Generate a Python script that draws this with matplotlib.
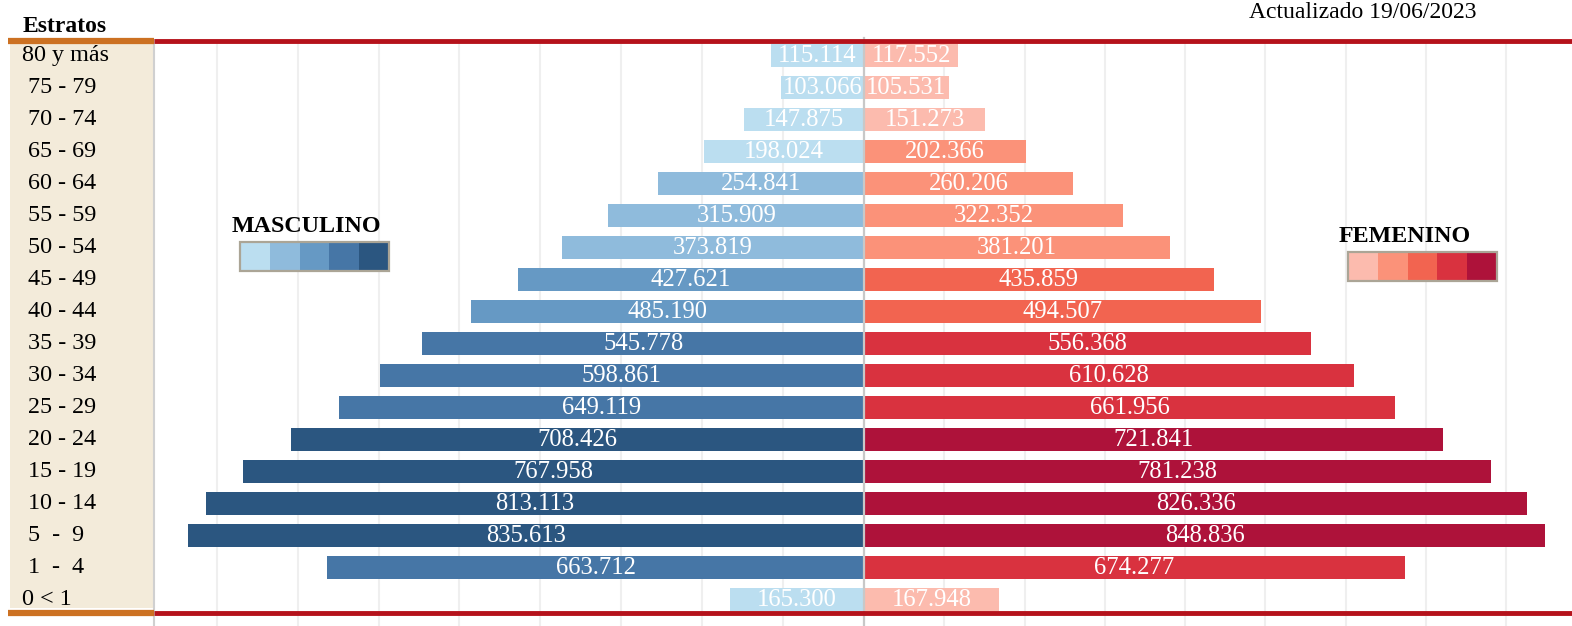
import matplotlib.pyplot as plt
import numpy as np
from matplotlib.patches import Rectangle
from matplotlib.lines import Line2D
import matplotlib.transforms as mtransforms

# Daten
estratos = ["80 y más", " 75 - 79", " 70 - 74", " 65 - 69", " 60 - 64", " 55 - 59",
            " 50 - 54", " 45 - 49", " 40 - 44", " 35 - 39", " 30 - 34", " 25 - 29",
            " 20 - 24", " 15 - 19", " 10 - 14", " 5  -  9", " 1  -  4", "0 < 1"]
masculino = [115114, 103066, 147875, 198024, 254841, 315909, 373819, 427621, 485190,
             545778, 598861, 649119, 708426, 767958, 813113, 835613, 663712, 165300]
femenino = [117552, 105531, 151273, 202366, 260206, 322352, 381201, 435859, 494507,
            556368, 610628, 661956, 721841, 781238, 826336, 848836, 674277, 167948]
fecha = "Actualizado 19/06/2023"

# Farbstufen (quantisiert nach Wert)
stufen = [200000, 400000, 500000, 700000]
blau = ["#BBDEF0", "#8FBBDC", "#6699C4", "#4676A6", "#2B5680"]
rot = ["#FCBBAE", "#FB9279", "#F26450", "#D9323F", "#AE123A"]

W, H = 1572, 626
SERIF = "Liberation Serif"

def fx(px):
    return px / W

def fy(py):
    return 1 - py / H

fig = plt.figure(figsize=(W / 100, H / 100), dpi=100)

top, bottom = 40, 626
pitch = 32.0
erste = 55.5   # Mitte der ersten Zeile in Pixel
n = len(estratos)
ax_m = fig.add_axes([fx(154), fy(bottom), fx(864 - 154), (bottom - top) / H])
ax_f = fig.add_axes([fx(864), fy(bottom), fx(W - 864), (bottom - top) / H])

y = np.arange(n)
c_m = [blau[i] for i in np.digitize(masculino, stufen)]
c_f = [rot[i] for i in np.digitize(femenino, stufen)]

ax_m.barh(y, -np.array(masculino), height=0.73, color=c_m, zorder=2)
ax_f.barh(y, femenino, height=0.73, color=c_f, zorder=2)

ax_m.set_xlim(-877600, 0)
ax_f.set_xlim(0, 882200)
y_oben = -(erste - top) / pitch
for ax in (ax_m, ax_f):
    ax.set_ylim(y_oben + (bottom - top) / pitch, y_oben)
    lo, hi = ax.get_xlim()
    ax.set_xticks(np.arange(-900000, 900001, 100000))
    ax.set_xlim(lo, hi)
    ax.grid(axis="x", color="#EFEFEF", linewidth=1.5, zorder=0)
    ax.tick_params(length=0, labelbottom=False, labelleft=False)
    ax.set_yticks([])
    for s in ax.spines.values():
        s.set_visible(False)

# Werte in den Balken
for i, v in enumerate(masculino):
    ax_m.text(-v / 2, i, f"{v:,}".replace(",", "."), ha="center", va="center",
              color="white", fontsize=17.7, family=SERIF, zorder=3)
for i, v in enumerate(femenino):
    ax_f.text(v / 2, i, f"{v:,}".replace(",", "."), ha="center", va="center",
              color="white", fontsize=17.7, family=SERIF, zorder=3)

# Mittellinie
fig.add_artist(Line2D([fx(864), fx(864)], [fy(38), fy(bottom)], color="#C8C8C8", lw=1.6, zorder=5))

# Linkes Feld mit Estratos
fig.add_artist(Rectangle((fx(10), fy(608)), fx(154 - 10), (608 - 43) / H,
                         facecolor="#F3EBDA", edgecolor="none", zorder=1))
fig.add_artist(Line2D([fx(154), fx(154)], [fy(40), fy(bottom)], color="#D0D0D0", lw=1.5, zorder=4))
trans = mtransforms.blended_transform_factory(fig.transFigure, ax_m.transData)
for i, lab in enumerate(estratos):
    fig.text(fx(22), i, lab, transform=trans, ha="left", va="center",
             fontsize=17.4, family=SERIF, color="black", zorder=6)

fig.text(fx(23), fy(32), "Estratos", ha="left", va="baseline", fontsize=17,
         fontweight="bold", family=SERIF)
fig.text(fx(1363), fy(18), fecha, ha="center", va="baseline", fontsize=17, family=SERIF)

# Linien oben und unten
for yy in (40.5, 613):
    fig.add_artist(Line2D([fx(8), fx(154)], [fy(yy), fy(yy)], color="#CC7122", lw=4.5,
                          solid_capstyle="butt", zorder=6))
    fig.add_artist(Line2D([fx(154), fx(W)], [fy(yy), fy(yy)], color="#B5121B", lw=3.5,
                          solid_capstyle="butt", zorder=6))

# Legenden
def legende(x0, y0, titel, farben, tx, ty):
    w, h = 151, 31
    sw = (w - 4) / len(farben)
    for k, c in enumerate(farben):
        fig.add_artist(Rectangle((fx(x0 + 2 + k * sw), fy(y0 + h - 2)), fx(sw), (h - 4) / H,
                                 facecolor=c, edgecolor="none", zorder=6))
    fig.add_artist(Rectangle((fx(x0 + 1), fy(y0 + h - 1)), fx(w - 2), (h - 2) / H,
                             facecolor="none", edgecolor="#ABA596", lw=1.6, zorder=7))
    fig.text(fx(tx), fy(ty), titel, ha="center", va="baseline", fontsize=17.3,
             fontweight="bold", family=SERIF, zorder=7)

legende(239, 241, "MASCULINO", blau, 306, 232)
legende(1347, 251, "FEMENINO", rot, 1405, 242)

fig.savefig("out.png", dpi=100)
